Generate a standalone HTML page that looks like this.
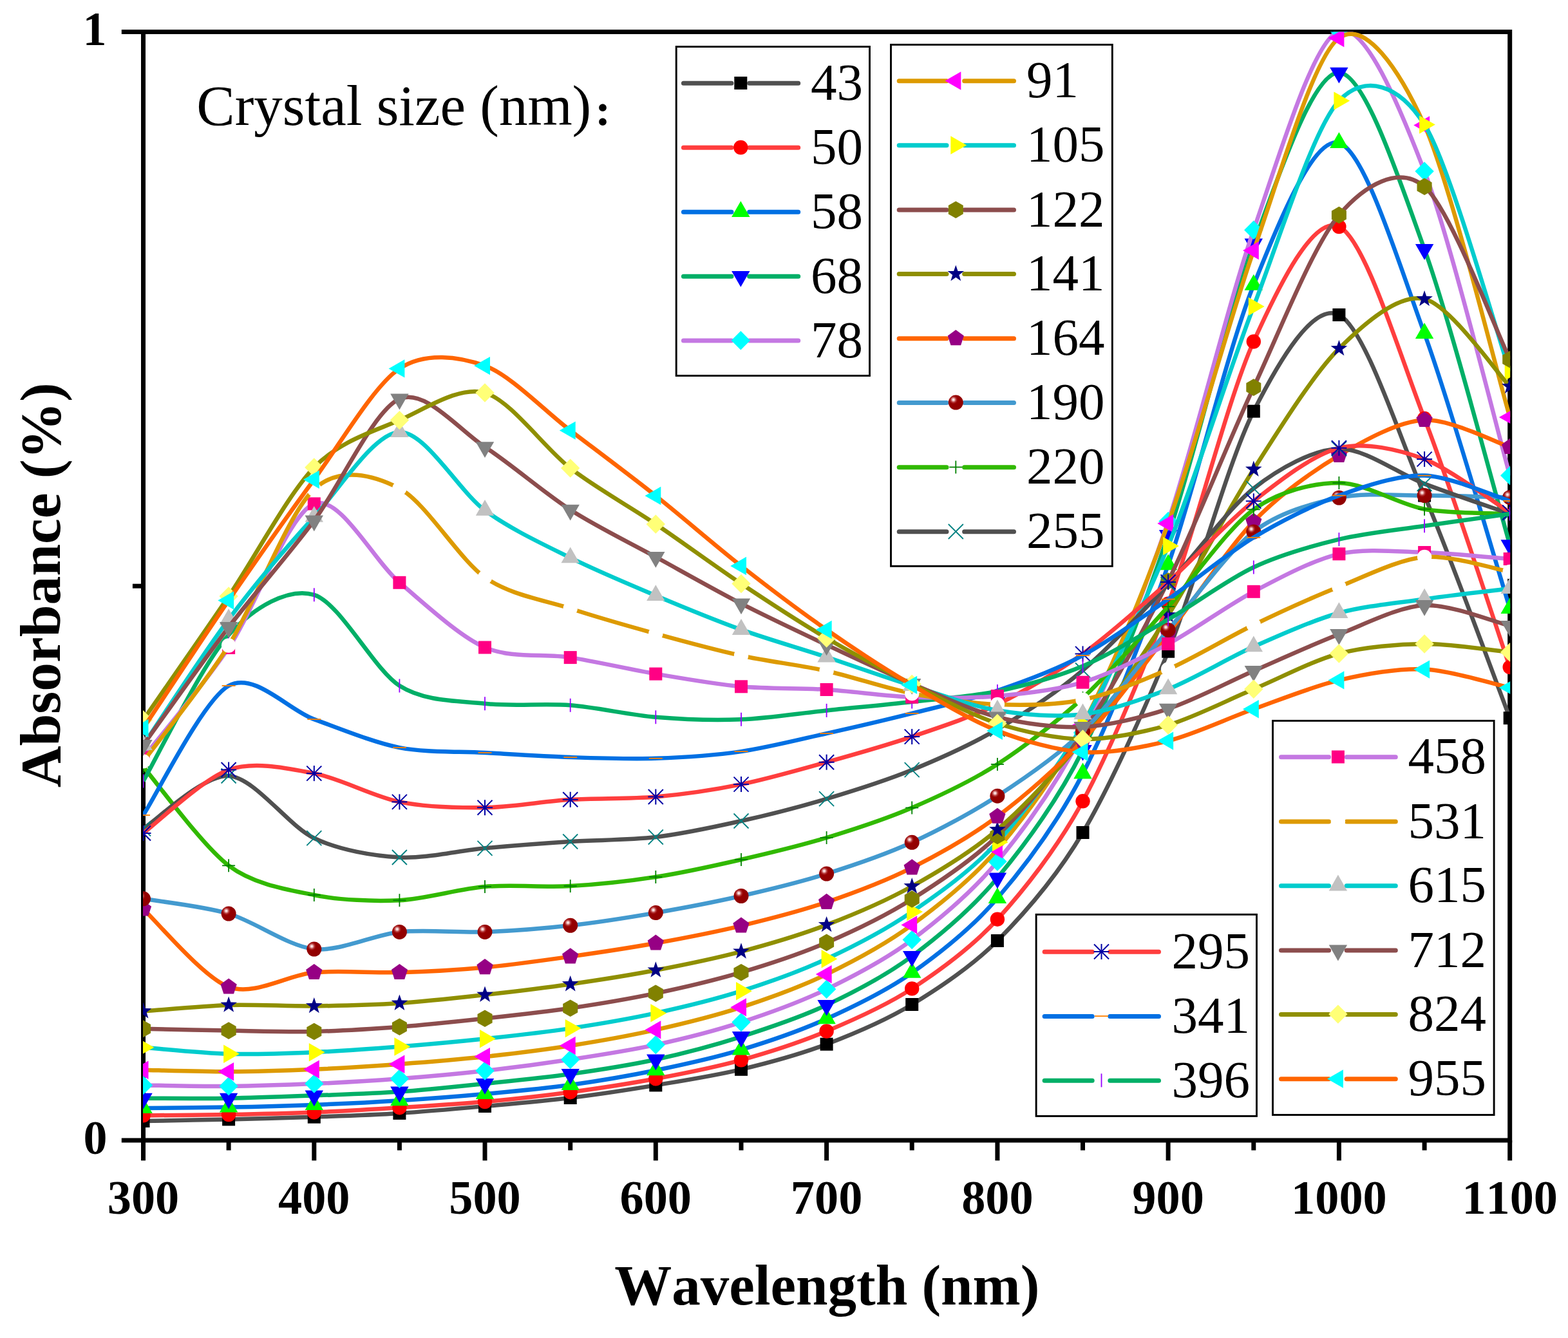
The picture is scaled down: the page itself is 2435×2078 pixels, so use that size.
<!DOCTYPE html>
<html lang="en"><head><meta charset="utf-8"><title>Absorbance vs Wavelength</title>
<style>html,body{margin:0;padding:0;background:#fff;}body{width:2435px;height:2078px;overflow:hidden;}svg{display:block;}
text{font-family:"Liberation Serif","Noto Serif CJK SC",serif;font-kerning:none;fill:#000;}
.b{font-weight:bold;}</style></head><body>
<svg width="2435" height="2078" viewBox="0 0 2435 2078">
<defs><clipPath id="cp"><rect x="222" y="49.5" width="2123.2" height="1721.5"/></clipPath>
<radialGradient id="sph" cx="0.34" cy="0.31" r="0.62" fx="0.34" fy="0.31"><stop offset="0" stop-color="#ffffff"/><stop offset="0.1" stop-color="#f6d0d0"/><stop offset="0.3" stop-color="#b03030"/><stop offset="0.46" stop-color="#960000"/><stop offset="1" stop-color="#900000"/></radialGradient></defs>
<rect width="2435" height="2078" fill="#fff"/>
<g stroke="#000" stroke-width="7" fill="none" stroke-linecap="butt">
<rect x="222.5" y="49.5" width="2122.2" height="1721.5"/>
<line x1="222.5" y1="1771" x2="222.5" y2="1802.4"/>
<line x1="355.1" y1="1771" x2="355.1" y2="1786.5"/>
<line x1="487.8" y1="1771" x2="487.8" y2="1802.4"/>
<line x1="620.4" y1="1771" x2="620.4" y2="1786.5"/>
<line x1="753" y1="1771" x2="753" y2="1802.4"/>
<line x1="885.7" y1="1771" x2="885.7" y2="1786.5"/>
<line x1="1018.3" y1="1771" x2="1018.3" y2="1802.4"/>
<line x1="1151" y1="1771" x2="1151" y2="1786.5"/>
<line x1="1283.6" y1="1771" x2="1283.6" y2="1802.4"/>
<line x1="1416.2" y1="1771" x2="1416.2" y2="1786.5"/>
<line x1="1548.9" y1="1771" x2="1548.9" y2="1802.4"/>
<line x1="1681.5" y1="1771" x2="1681.5" y2="1786.5"/>
<line x1="1814.1" y1="1771" x2="1814.1" y2="1802.4"/>
<line x1="1946.8" y1="1771" x2="1946.8" y2="1786.5"/>
<line x1="2079.4" y1="1771" x2="2079.4" y2="1802.4"/>
<line x1="2212.1" y1="1771" x2="2212.1" y2="1786.5"/>
<line x1="2344.7" y1="1771" x2="2344.7" y2="1802.4"/>
<line x1="188.8" y1="49.5" x2="222.5" y2="49.5"/>
<line x1="188.8" y1="1771" x2="222.5" y2="1771"/>
<line x1="205.9" y1="910.2" x2="222.5" y2="910.2"/>
</g>
<g clip-path="url(#cp)">
<path d="M222.5 1741C242.4 1740.61 315.35 1739.35 355.14 1738.4C394.93 1737.46 447.98 1736.12 487.77 1734.7C527.57 1733.28 580.62 1731.41 620.41 1728.9C660.2 1726.39 713.26 1721.59 753.05 1718C792.84 1714.41 845.9 1709.89 885.69 1705C925.48 1700.11 978.53 1692.03 1018.32 1685.4C1058.12 1678.77 1111.17 1670.36 1150.96 1660.8C1190.75 1651.24 1243.81 1636.82 1283.6 1621.7C1323.39 1606.58 1376.45 1584.11 1416.24 1560C1456.03 1535.89 1509.08 1501.05 1548.88 1461C1588.67 1420.95 1641.72 1360.39 1681.51 1293C1721.3 1225.61 1774.36 1109.85 1814.15 1011.7C1853.94 913.56 1907 717.11 1946.79 638.7C1986.58 560.3 2039.63 469.37 2079.42 489C2119.22 508.63 2172.27 675.67 2212.06 769.6C2251.85 863.53 2324.8 1063.36 2344.7 1115.2" fill="none" stroke="#505050" stroke-width="6.5" stroke-linejoin="round"/>
<g><rect x="212.5" y="1731" width="20" height="20" fill="#000000"/><rect x="345.1" y="1728.4" width="20" height="20" fill="#000000"/><rect x="477.8" y="1724.7" width="20" height="20" fill="#000000"/><rect x="610.4" y="1718.9" width="20" height="20" fill="#000000"/><rect x="743" y="1708" width="20" height="20" fill="#000000"/><rect x="875.7" y="1695" width="20" height="20" fill="#000000"/><rect x="1008.3" y="1675.4" width="20" height="20" fill="#000000"/><rect x="1141" y="1650.8" width="20" height="20" fill="#000000"/><rect x="1273.6" y="1611.7" width="20" height="20" fill="#000000"/><rect x="1406.2" y="1550" width="20" height="20" fill="#000000"/><rect x="1538.9" y="1451" width="20" height="20" fill="#000000"/><rect x="1671.5" y="1283" width="20" height="20" fill="#000000"/><rect x="1804.1" y="1001.7" width="20" height="20" fill="#000000"/><rect x="1936.8" y="628.7" width="20" height="20" fill="#000000"/><rect x="2069.4" y="479" width="20" height="20" fill="#000000"/><rect x="2202.1" y="759.6" width="20" height="20" fill="#000000"/><rect x="2334.7" y="1105.2" width="20" height="20" fill="#000000"/></g>
<path d="M222.5 1732.4C242.4 1732.19 315.35 1731.75 355.14 1731C394.93 1730.25 447.98 1729.02 487.77 1727.4C527.57 1725.78 580.62 1722.66 620.41 1720.2C660.2 1717.74 713.26 1714.6 753.05 1711C792.84 1707.4 845.9 1701.56 885.69 1696.2C925.48 1690.85 978.53 1682.78 1018.32 1675.3C1058.12 1667.82 1111.17 1657.37 1150.96 1646.3C1190.75 1635.23 1243.81 1618.13 1283.6 1601.5C1323.39 1584.87 1376.45 1561.47 1416.24 1535.4C1456.03 1509.33 1509.08 1471.37 1548.88 1427.7C1588.67 1384.04 1641.72 1317.8 1681.51 1244.3C1721.3 1170.8 1774.36 1044.77 1814.15 937.7C1853.94 830.63 1907 618.36 1946.79 530.5C1986.58 442.64 2039.63 334.07 2079.42 352C2119.22 369.93 2172.27 547.38 2212.06 650C2251.85 752.62 2324.8 978.18 2344.7 1036.1" fill="none" stroke="#FF3E3E" stroke-width="6.5" stroke-linejoin="round"/>
<g><circle cx="222.5" cy="1732.4" r="11.2" fill="#FF0000"/><circle cx="355.1" cy="1731" r="11.2" fill="#FF0000"/><circle cx="487.8" cy="1727.4" r="11.2" fill="#FF0000"/><circle cx="620.4" cy="1720.2" r="11.2" fill="#FF0000"/><circle cx="753" cy="1711" r="11.2" fill="#FF0000"/><circle cx="885.7" cy="1696.2" r="11.2" fill="#FF0000"/><circle cx="1018.3" cy="1675.3" r="11.2" fill="#FF0000"/><circle cx="1151" cy="1646.3" r="11.2" fill="#FF0000"/><circle cx="1283.6" cy="1601.5" r="11.2" fill="#FF0000"/><circle cx="1416.2" cy="1535.4" r="11.2" fill="#FF0000"/><circle cx="1548.9" cy="1427.7" r="11.2" fill="#FF0000"/><circle cx="1681.5" cy="1244.3" r="11.2" fill="#FF0000"/><circle cx="1814.1" cy="937.7" r="11.2" fill="#FF0000"/><circle cx="1946.8" cy="530.5" r="11.2" fill="#FF0000"/><circle cx="2079.4" cy="352" r="11.2" fill="#FF0000"/><circle cx="2212.1" cy="650" r="11.2" fill="#FF0000"/><circle cx="2344.7" cy="1036.1" r="11.2" fill="#FF0000"/></g>
<path d="M222.5 1721C242.4 1720.79 315.35 1720.36 355.14 1719.6C394.93 1718.84 447.98 1717.46 487.77 1715.9C527.57 1714.34 580.62 1711.74 620.41 1709.2C660.2 1706.66 713.26 1702.63 753.05 1699C792.84 1695.37 845.9 1690.51 885.69 1685C925.48 1679.49 978.53 1670.49 1018.32 1662.3C1058.12 1654.11 1111.17 1642.4 1150.96 1630.4C1190.75 1618.4 1243.81 1600.24 1283.6 1582.3C1323.39 1564.36 1376.45 1538.89 1416.24 1510.8C1456.03 1482.7 1509.08 1441.41 1548.88 1395C1588.67 1348.59 1641.72 1279.06 1681.51 1201.4C1721.3 1123.75 1774.36 991.11 1814.15 877.3C1853.94 763.49 1907 541 1946.79 442.7C1986.58 344.4 2039.63 210.7 2079.42 222C2119.22 233.3 2172.27 409.55 2212.06 518C2251.85 626.45 2324.8 880.95 2344.7 945" fill="none" stroke="#0070E3" stroke-width="6.5" stroke-linejoin="round"/>
<g><polygon points="222.5,1704.2 236.7,1729 208.3,1729" fill="#00FF00"/><polygon points="355.1,1702.8 369.3,1727.6 340.9,1727.6" fill="#00FF00"/><polygon points="487.8,1699.1 502,1723.9 473.6,1723.9" fill="#00FF00"/><polygon points="620.4,1692.4 634.6,1717.2 606.2,1717.2" fill="#00FF00"/><polygon points="753,1682.2 767.2,1707 738.8,1707" fill="#00FF00"/><polygon points="885.7,1668.2 899.9,1693 871.5,1693" fill="#00FF00"/><polygon points="1018.3,1645.5 1032.5,1670.3 1004.1,1670.3" fill="#00FF00"/><polygon points="1151,1613.6 1165.2,1638.4 1136.8,1638.4" fill="#00FF00"/><polygon points="1283.6,1565.5 1297.8,1590.3 1269.4,1590.3" fill="#00FF00"/><polygon points="1416.2,1494 1430.4,1518.8 1402,1518.8" fill="#00FF00"/><polygon points="1548.9,1378.2 1563.1,1403 1534.7,1403" fill="#00FF00"/><polygon points="1681.5,1184.6 1695.7,1209.4 1667.3,1209.4" fill="#00FF00"/><polygon points="1814.1,860.5 1828.3,885.3 1799.9,885.3" fill="#00FF00"/><polygon points="1946.8,425.9 1961,450.7 1932.6,450.7" fill="#00FF00"/><polygon points="2079.4,205.2 2093.6,230 2065.2,230" fill="#00FF00"/><polygon points="2212.1,501.2 2226.3,526 2197.9,526" fill="#00FF00"/><polygon points="2344.7,928.2 2358.9,953 2330.5,953" fill="#00FF00"/></g>
<path d="M222.5 1705.7C242.4 1705.7 315.35 1706.35 355.14 1705.7C394.93 1705.06 447.98 1702.92 487.77 1701.4C527.57 1699.88 580.62 1698.36 620.41 1695.6C660.2 1692.84 713.26 1687.14 753.05 1683C792.84 1678.86 845.9 1673.62 885.69 1668C925.48 1662.38 978.53 1654.18 1018.32 1645.5C1058.12 1636.82 1111.17 1622.79 1150.96 1610.1C1190.75 1597.41 1243.81 1579.66 1283.6 1560.9C1323.39 1542.14 1376.45 1514.61 1416.24 1485C1456.03 1455.39 1509.08 1411.5 1548.88 1363.5C1588.67 1315.5 1641.72 1244.88 1681.51 1165C1721.3 1085.12 1774.36 948.99 1814.15 831C1853.94 713.01 1907 486.13 1946.79 378.4C1986.58 270.67 2039.63 111.51 2079.42 112.8C2119.22 114.09 2172.27 276.98 2212.06 387C2251.85 497.02 2324.8 777.4 2344.7 846.3" fill="none" stroke="#00AF67" stroke-width="6.5" stroke-linejoin="round"/>
<g><polygon points="222.5,1722.5 236.7,1697.7 208.3,1697.7" fill="#0000FF"/><polygon points="355.1,1722.5 369.3,1697.7 340.9,1697.7" fill="#0000FF"/><polygon points="487.8,1718.2 502,1693.4 473.6,1693.4" fill="#0000FF"/><polygon points="620.4,1712.4 634.6,1687.6 606.2,1687.6" fill="#0000FF"/><polygon points="753,1699.8 767.2,1675 738.8,1675" fill="#0000FF"/><polygon points="885.7,1684.8 899.9,1660 871.5,1660" fill="#0000FF"/><polygon points="1018.3,1662.3 1032.5,1637.5 1004.1,1637.5" fill="#0000FF"/><polygon points="1151,1626.9 1165.2,1602.1 1136.8,1602.1" fill="#0000FF"/><polygon points="1283.6,1577.7 1297.8,1552.9 1269.4,1552.9" fill="#0000FF"/><polygon points="1416.2,1501.8 1430.4,1477 1402,1477" fill="#0000FF"/><polygon points="1548.9,1380.3 1563.1,1355.5 1534.7,1355.5" fill="#0000FF"/><polygon points="1681.5,1181.8 1695.7,1157 1667.3,1157" fill="#0000FF"/><polygon points="1814.1,847.8 1828.3,823 1799.9,823" fill="#0000FF"/><polygon points="1946.8,395.2 1961,370.4 1932.6,370.4" fill="#0000FF"/><polygon points="2079.4,129.6 2093.6,104.8 2065.2,104.8" fill="#0000FF"/><polygon points="2212.1,403.8 2226.3,379 2197.9,379" fill="#0000FF"/><polygon points="2344.7,863.1 2358.9,838.3 2330.5,838.3" fill="#0000FF"/></g>
<path d="M222.5 1685.4C242.4 1685.62 315.35 1687.25 355.14 1686.9C394.93 1686.56 447.98 1684.84 487.77 1683.1C527.57 1681.36 580.62 1678.32 620.41 1675.3C660.2 1672.28 713.26 1667.47 753.05 1663C792.84 1658.53 845.9 1651.56 885.69 1645.5C925.48 1639.44 978.53 1631.28 1018.32 1622.6C1058.12 1613.91 1111.17 1600.54 1150.96 1587.6C1190.75 1574.65 1243.81 1555.5 1283.6 1536.3C1323.39 1517.1 1376.45 1489.34 1416.24 1459.6C1456.03 1429.86 1509.08 1386.24 1548.88 1338C1588.67 1289.76 1641.72 1217.28 1681.51 1138C1721.3 1058.72 1774.36 926.61 1814.15 809.5C1853.94 692.39 1907 471.53 1946.79 357.3C1986.58 243.07 2039.63 61.7 2079.42 48C2119.22 34.3 2172.27 162.41 2212.06 266C2251.85 369.59 2324.8 667.71 2344.7 738.6" fill="none" stroke="#C478E2" stroke-width="6.5" stroke-linejoin="round"/>
<g><polygon points="222.5,1670.7 237.2,1685.4 222.5,1700.1 207.8,1685.4" fill="#00FFFF"/><polygon points="355.1,1672.2 369.8,1686.9 355.1,1701.6 340.4,1686.9" fill="#00FFFF"/><polygon points="487.8,1668.4 502.5,1683.1 487.8,1697.8 473.1,1683.1" fill="#00FFFF"/><polygon points="620.4,1660.6 635.1,1675.3 620.4,1690 605.7,1675.3" fill="#00FFFF"/><polygon points="753,1648.3 767.8,1663 753,1677.7 738.3,1663" fill="#00FFFF"/><polygon points="885.7,1630.8 900.4,1645.5 885.7,1660.2 871,1645.5" fill="#00FFFF"/><polygon points="1018.3,1607.9 1033,1622.6 1018.3,1637.3 1003.6,1622.6" fill="#00FFFF"/><polygon points="1151,1572.9 1165.7,1587.6 1151,1602.3 1136.3,1587.6" fill="#00FFFF"/><polygon points="1283.6,1521.6 1298.3,1536.3 1283.6,1551 1268.9,1536.3" fill="#00FFFF"/><polygon points="1416.2,1444.9 1430.9,1459.6 1416.2,1474.3 1401.5,1459.6" fill="#00FFFF"/><polygon points="1548.9,1323.3 1563.6,1338 1548.9,1352.7 1534.2,1338" fill="#00FFFF"/><polygon points="1681.5,1123.3 1696.2,1138 1681.5,1152.7 1666.8,1138" fill="#00FFFF"/><polygon points="1814.1,794.8 1828.8,809.5 1814.1,824.2 1799.4,809.5" fill="#00FFFF"/><polygon points="1946.8,342.6 1961.5,357.3 1946.8,372 1932.1,357.3" fill="#00FFFF"/><polygon points="2079.4,33.3 2094.1,48 2079.4,62.7 2064.7,48" fill="#00FFFF"/><polygon points="2212.1,251.3 2226.8,266 2212.1,280.7 2197.4,266" fill="#00FFFF"/><polygon points="2344.7,723.9 2359.4,738.6 2344.7,753.3 2330,738.6" fill="#00FFFF"/></g>
<path d="M222.5 1661.7C242.4 1662.09 315.35 1664.43 355.14 1664.3C394.93 1664.16 447.98 1662.54 487.77 1660.8C527.57 1659.06 580.62 1655.65 620.41 1652.7C660.2 1649.75 713.26 1645.4 753.05 1641.1C792.84 1636.79 845.9 1630.25 885.69 1624C925.48 1617.75 978.53 1608.34 1018.32 1599.4C1058.12 1590.46 1111.17 1577.35 1150.96 1564.4C1190.75 1551.46 1243.81 1532.3 1283.6 1513.1C1323.39 1493.9 1376.45 1465.52 1416.24 1436.4C1456.03 1407.29 1509.08 1365.56 1548.88 1319C1588.67 1272.44 1641.72 1201.9 1681.51 1126C1721.3 1050.1 1774.36 923.53 1814.15 813C1853.94 702.47 1907 502.2 1946.79 389.1C1986.58 276 2039.63 88.19 2079.42 59C2119.22 29.81 2172.27 106.15 2212.06 194.5C2251.85 282.85 2324.8 579.98 2344.7 648" fill="none" stroke="#DD9A00" stroke-width="6.5" stroke-linejoin="round"/>
<g><polygon points="205.7,1661.7 230.5,1647.5 230.5,1675.9" fill="#FF00FF"/><polygon points="338.3,1664.3 363.1,1650.1 363.1,1678.5" fill="#FF00FF"/><polygon points="471,1660.8 495.8,1646.6 495.8,1675" fill="#FF00FF"/><polygon points="603.6,1652.7 628.4,1638.5 628.4,1666.9" fill="#FF00FF"/><polygon points="736.2,1641.1 761,1626.9 761,1655.3" fill="#FF00FF"/><polygon points="868.9,1624 893.7,1609.8 893.7,1638.2" fill="#FF00FF"/><polygon points="1001.5,1599.4 1026.3,1585.2 1026.3,1613.6" fill="#FF00FF"/><polygon points="1134.2,1564.4 1159,1550.2 1159,1578.6" fill="#FF00FF"/><polygon points="1266.8,1513.1 1291.6,1498.9 1291.6,1527.3" fill="#FF00FF"/><polygon points="1399.4,1436.4 1424.2,1422.2 1424.2,1450.6" fill="#FF00FF"/><polygon points="1532.1,1319 1556.9,1304.8 1556.9,1333.2" fill="#FF00FF"/><polygon points="1664.7,1126 1689.5,1111.8 1689.5,1140.2" fill="#FF00FF"/><polygon points="1797.3,813 1822.1,798.8 1822.1,827.2" fill="#FF00FF"/><polygon points="1930,389.1 1954.8,374.9 1954.8,403.3" fill="#FF00FF"/><polygon points="2062.6,59 2087.4,44.8 2087.4,73.2" fill="#FF00FF"/><polygon points="2195.3,194.5 2220.1,180.3 2220.1,208.7" fill="#FF00FF"/><polygon points="2327.9,648 2352.7,633.8 2352.7,662.2" fill="#FF00FF"/></g>
<path d="M222.5 1626.7C242.4 1628.22 315.35 1635.67 355.14 1636.8C394.93 1637.92 447.98 1635.89 487.77 1634.2C527.57 1632.51 580.62 1628.63 620.41 1625.5C660.2 1622.37 713.26 1617.56 753.05 1613.3C792.84 1609.04 845.9 1603.08 885.69 1597.1C925.48 1591.12 978.53 1582.09 1018.32 1573.4C1058.12 1564.72 1111.17 1551.83 1150.96 1539.2C1190.75 1526.57 1243.81 1507.66 1283.6 1489.2C1323.39 1470.74 1376.45 1443.28 1416.24 1416.1C1456.03 1388.92 1509.08 1351.66 1548.88 1308C1588.67 1264.34 1641.72 1194 1681.51 1125C1721.3 1056 1774.36 945.35 1814.15 848C1853.94 750.65 1907 579.71 1946.79 476C1986.58 372.29 2039.63 198.96 2079.42 156.6C2119.22 114.24 2172.27 130.54 2212.06 193.6C2251.85 256.66 2324.8 519.49 2344.7 577" fill="none" stroke="#00CCCD" stroke-width="6.5" stroke-linejoin="round"/>
<g><polygon points="239.3,1626.7 214.5,1612.5 214.5,1640.9" fill="#FFFF00"/><polygon points="371.9,1636.8 347.1,1622.6 347.1,1651" fill="#FFFF00"/><polygon points="504.6,1634.2 479.8,1620 479.8,1648.4" fill="#FFFF00"/><polygon points="637.2,1625.5 612.4,1611.3 612.4,1639.7" fill="#FFFF00"/><polygon points="769.8,1613.3 745,1599.1 745,1627.5" fill="#FFFF00"/><polygon points="902.5,1597.1 877.7,1582.9 877.7,1611.3" fill="#FFFF00"/><polygon points="1035.1,1573.4 1010.3,1559.2 1010.3,1587.6" fill="#FFFF00"/><polygon points="1167.8,1539.2 1143,1525 1143,1553.4" fill="#FFFF00"/><polygon points="1300.4,1489.2 1275.6,1475 1275.6,1503.4" fill="#FFFF00"/><polygon points="1433,1416.1 1408.2,1401.9 1408.2,1430.3" fill="#FFFF00"/><polygon points="1565.7,1308 1540.9,1293.8 1540.9,1322.2" fill="#FFFF00"/><polygon points="1698.3,1125 1673.5,1110.8 1673.5,1139.2" fill="#FFFF00"/><polygon points="1830.9,848 1806.1,833.8 1806.1,862.2" fill="#FFFF00"/><polygon points="1963.6,476 1938.8,461.8 1938.8,490.2" fill="#FFFF00"/><polygon points="2096.2,156.6 2071.4,142.4 2071.4,170.8" fill="#FFFF00"/><polygon points="2228.9,193.6 2204.1,179.4 2204.1,207.8" fill="#FFFF00"/><polygon points="2361.5,577 2336.7,562.8 2336.7,591.2" fill="#FFFF00"/></g>
<path d="M222.5 1597.7C242.4 1598.13 315.35 1599.95 355.14 1600.6C394.93 1601.24 447.98 1602.87 487.77 1602C527.57 1601.13 580.62 1597.83 620.41 1594.8C660.2 1591.77 713.26 1586.15 753.05 1581.8C792.84 1577.45 845.9 1571.66 885.69 1565.8C925.48 1559.93 978.53 1551.04 1018.32 1542.7C1058.12 1534.36 1111.17 1522.02 1150.96 1510.2C1190.75 1498.38 1243.81 1480.97 1283.6 1463.9C1323.39 1446.83 1376.45 1421.29 1416.24 1396.4C1456.03 1371.52 1509.08 1336.76 1548.88 1298C1588.67 1259.24 1641.72 1197.33 1681.51 1138C1721.3 1078.67 1774.36 982.96 1814.15 902.5C1853.94 822.04 1907 686.88 1946.79 601.6C1986.58 516.33 2039.63 380.77 2079.42 334C2119.22 287.23 2172.27 256.17 2212.06 289.8C2251.85 323.43 2324.8 517.94 2344.7 558.2" fill="none" stroke="#8C4D4D" stroke-width="6.5" stroke-linejoin="round"/>
<g><polygon points="222.5,1584.4 234,1591 234,1604.4 222.5,1611 211,1604.4 211,1591" fill="#818100"/><polygon points="355.1,1587.3 366.7,1593.9 366.7,1607.2 355.1,1613.9 343.6,1607.2 343.6,1593.9" fill="#818100"/><polygon points="487.8,1588.7 499.3,1595.3 499.3,1608.7 487.8,1615.3 476.3,1608.7 476.3,1595.3" fill="#818100"/><polygon points="620.4,1581.5 631.9,1588.1 631.9,1601.5 620.4,1608.1 608.9,1601.5 608.9,1588.1" fill="#818100"/><polygon points="753,1568.5 764.6,1575.1 764.6,1588.5 753,1595.1 741.5,1588.5 741.5,1575.1" fill="#818100"/><polygon points="885.7,1552.5 897.2,1559.1 897.2,1572.5 885.7,1579.1 874.2,1572.5 874.2,1559.1" fill="#818100"/><polygon points="1018.3,1529.4 1029.8,1536 1029.8,1549.4 1018.3,1556 1006.8,1549.4 1006.8,1536" fill="#818100"/><polygon points="1151,1496.9 1162.5,1503.5 1162.5,1516.9 1151,1523.5 1139.4,1516.9 1139.4,1503.5" fill="#818100"/><polygon points="1283.6,1450.6 1295.1,1457.2 1295.1,1470.6 1283.6,1477.2 1272.1,1470.6 1272.1,1457.2" fill="#818100"/><polygon points="1416.2,1383.1 1427.8,1389.8 1427.8,1403.1 1416.2,1409.7 1404.7,1403.1 1404.7,1389.8" fill="#818100"/><polygon points="1548.9,1284.7 1560.4,1291.3 1560.4,1304.7 1548.9,1311.3 1537.4,1304.7 1537.4,1291.3" fill="#818100"/><polygon points="1681.5,1124.7 1693,1131.3 1693,1144.7 1681.5,1151.3 1670,1144.7 1670,1131.3" fill="#818100"/><polygon points="1814.1,889.2 1825.7,895.9 1825.7,909.1 1814.1,915.8 1802.6,909.1 1802.6,895.9" fill="#818100"/><polygon points="1946.8,588.3 1958.3,595 1958.3,608.2 1946.8,614.9 1935.3,608.2 1935.3,595" fill="#818100"/><polygon points="2079.4,320.7 2090.9,327.4 2090.9,340.6 2079.4,347.3 2067.9,340.7 2067.9,327.4" fill="#818100"/><polygon points="2212.1,276.5 2223.6,283.2 2223.6,296.4 2212.1,303.1 2200.5,296.5 2200.5,283.2" fill="#818100"/><polygon points="2344.7,544.9 2356.2,551.6 2356.2,564.9 2344.7,571.5 2333.2,564.9 2333.2,551.6" fill="#818100"/></g>
<path d="M222.5 1570.5C242.4 1569.06 315.35 1562.12 355.14 1560.9C394.93 1559.69 447.98 1562.84 487.77 1562.4C527.57 1561.97 580.62 1560.61 620.41 1558C660.2 1555.39 713.26 1549.42 753.05 1545C792.84 1540.58 845.9 1534.23 885.69 1528.5C925.48 1522.77 978.53 1514.4 1018.32 1506.8C1058.12 1499.19 1111.17 1488.36 1150.96 1477.8C1190.75 1467.24 1243.81 1451.6 1283.6 1436.4C1323.39 1421.21 1376.45 1398.68 1416.24 1376.5C1456.03 1354.32 1509.08 1322.78 1548.88 1288.5C1588.67 1254.22 1641.72 1197.95 1681.51 1148C1721.3 1098.05 1774.36 1018.35 1814.15 955.5C1853.94 892.65 1907 791.12 1946.79 729C1986.58 666.88 2039.63 581.09 2079.42 541.4C2119.22 501.71 2172.27 455.58 2212.06 464.4C2251.85 473.22 2324.8 579.83 2344.7 600.2" fill="none" stroke="#8F8F00" stroke-width="6.5" stroke-linejoin="round"/>
<g><polygon points="222.5,1557 225.7,1566.1 235.3,1566.3 227.6,1572.2 230.4,1581.4 222.5,1575.9 214.6,1581.4 217.4,1572.2 209.7,1566.3 219.3,1566.1" fill="#000084"/><polygon points="355.1,1547.4 358.3,1556.5 368,1556.7 360.3,1562.6 363.1,1571.8 355.1,1566.3 347.2,1571.8 350,1562.6 342.3,1556.7 352,1556.5" fill="#000084"/><polygon points="487.8,1548.9 490.9,1558 500.6,1558.2 492.9,1564.1 495.7,1573.3 487.8,1567.8 479.8,1573.3 482.6,1564.1 474.9,1558.2 484.6,1558" fill="#000084"/><polygon points="620.4,1544.5 623.6,1553.6 633.3,1553.8 625.5,1559.7 628.3,1568.9 620.4,1563.4 612.5,1568.9 615.3,1559.7 607.6,1553.8 617.2,1553.6" fill="#000084"/><polygon points="753,1531.5 756.2,1540.6 765.9,1540.8 758.2,1546.7 761,1555.9 753,1550.4 745.1,1555.9 747.9,1546.7 740.2,1540.8 749.9,1540.6" fill="#000084"/><polygon points="885.7,1515 888.9,1524.1 898.5,1524.3 890.8,1530.2 893.6,1539.4 885.7,1533.9 877.8,1539.4 880.6,1530.2 872.8,1524.3 882.5,1524.1" fill="#000084"/><polygon points="1018.3,1493.3 1021.5,1502.4 1031.2,1502.6 1023.5,1508.5 1026.3,1517.7 1018.3,1512.2 1010.4,1517.7 1013.2,1508.5 1005.5,1502.6 1015.2,1502.4" fill="#000084"/><polygon points="1151,1464.3 1154.1,1473.4 1163.8,1473.6 1156.1,1479.5 1158.9,1488.7 1151,1483.2 1143,1488.7 1145.8,1479.5 1138.1,1473.6 1147.8,1473.4" fill="#000084"/><polygon points="1283.6,1422.9 1286.8,1432 1296.4,1432.2 1288.7,1438.1 1291.5,1447.3 1283.6,1441.8 1275.7,1447.3 1278.5,1438.1 1270.8,1432.2 1280.4,1432" fill="#000084"/><polygon points="1416.2,1363 1419.4,1372.1 1429.1,1372.3 1421.4,1378.2 1424.2,1387.4 1416.2,1381.9 1408.3,1387.4 1411.1,1378.2 1403.4,1372.3 1413.1,1372.1" fill="#000084"/><polygon points="1548.9,1275 1552,1284.1 1561.7,1284.3 1554,1290.2 1556.8,1299.4 1548.9,1293.9 1540.9,1299.4 1543.7,1290.2 1536,1284.3 1545.7,1284.1" fill="#000084"/><polygon points="1681.5,1134.5 1684.7,1143.6 1694.4,1143.8 1686.6,1149.7 1689.4,1158.9 1681.5,1153.4 1673.6,1158.9 1676.4,1149.7 1668.7,1143.8 1678.3,1143.6" fill="#000084"/><polygon points="1814.1,942 1817.3,951.1 1827,951.3 1819.3,957.2 1822.1,966.4 1814.1,960.9 1806.2,966.4 1809,957.2 1801.3,951.3 1811,951.1" fill="#000084"/><polygon points="1946.8,715.5 1950,724.6 1959.6,724.8 1951.9,730.7 1954.7,739.9 1946.8,734.4 1938.9,739.9 1941.7,730.7 1933.9,724.8 1943.6,724.6" fill="#000084"/><polygon points="2079.4,527.9 2082.6,537 2092.3,537.2 2084.6,543.1 2087.4,552.3 2079.4,546.8 2071.5,552.3 2074.3,543.1 2066.6,537.2 2076.3,537" fill="#000084"/><polygon points="2212.1,450.9 2215.2,460 2224.9,460.2 2217.2,466.1 2220,475.3 2212.1,469.8 2204.1,475.3 2206.9,466.1 2199.2,460.2 2208.9,460" fill="#000084"/><polygon points="2344.7,586.7 2347.9,595.8 2357.5,596 2349.8,601.9 2352.6,611.1 2344.7,605.6 2336.8,611.1 2339.6,601.9 2331.9,596 2341.5,595.8" fill="#000084"/></g>
<path d="M222.5 1411.8C242.4 1429.95 315.35 1518.04 355.14 1532.8C394.93 1547.56 447.98 1513.59 487.77 1510.2C527.57 1506.81 580.62 1511.37 620.41 1510.2C660.2 1509.03 713.26 1506.09 753.05 1502.4C792.84 1498.71 845.9 1491.24 885.69 1485.6C925.48 1479.96 978.53 1471.97 1018.32 1464.8C1058.12 1457.63 1111.17 1447.36 1150.96 1437.8C1190.75 1428.24 1243.81 1414.63 1283.6 1401.1C1323.39 1387.57 1376.45 1367.56 1416.24 1347.6C1456.03 1327.63 1509.08 1297.64 1548.88 1268C1588.67 1238.36 1641.72 1192.6 1681.51 1150C1721.3 1107.4 1774.36 1035 1814.15 984C1853.94 933 1907 851.5 1946.79 810C1986.58 768.5 2039.63 730.95 2079.42 707.3C2119.22 683.64 2172.27 654.25 2212.06 652.3C2251.85 650.35 2324.8 688 2344.7 694.3" fill="none" stroke="#FF6500" stroke-width="6.5" stroke-linejoin="round"/>
<g><polygon points="222.5,1398.5 235.1,1407.7 230.3,1422.6 214.7,1422.6 209.9,1407.7" fill="#960084"/><polygon points="355.1,1519.5 367.8,1528.7 363,1543.6 347.3,1543.6 342.5,1528.7" fill="#960084"/><polygon points="487.8,1496.9 500.4,1506.1 495.6,1521 480,1521 475.1,1506.1" fill="#960084"/><polygon points="620.4,1496.9 633.1,1506.1 628.2,1521 612.6,1521 607.8,1506.1" fill="#960084"/><polygon points="753,1489.1 765.7,1498.3 760.9,1513.2 745.2,1513.2 740.4,1498.3" fill="#960084"/><polygon points="885.7,1472.3 898.3,1481.5 893.5,1496.4 877.9,1496.4 873,1481.5" fill="#960084"/><polygon points="1018.3,1451.5 1031,1460.7 1026.1,1475.6 1010.5,1475.6 1005.7,1460.7" fill="#960084"/><polygon points="1151,1424.5 1163.6,1433.7 1158.8,1448.6 1143.1,1448.6 1138.3,1433.7" fill="#960084"/><polygon points="1283.6,1387.8 1296.2,1397 1291.4,1411.9 1275.8,1411.9 1271,1397" fill="#960084"/><polygon points="1416.2,1334.3 1428.9,1343.5 1424.1,1358.4 1408.4,1358.4 1403.6,1343.5" fill="#960084"/><polygon points="1548.9,1254.7 1561.5,1263.9 1556.7,1278.8 1541.1,1278.8 1536.2,1263.9" fill="#960084"/><polygon points="1681.5,1136.7 1694.2,1145.9 1689.3,1160.8 1673.7,1160.8 1668.9,1145.9" fill="#960084"/><polygon points="1814.1,970.7 1826.8,979.9 1822,994.8 1806.3,994.8 1801.5,979.9" fill="#960084"/><polygon points="1946.8,796.7 1959.4,805.9 1954.6,820.8 1939,820.8 1934.1,805.9" fill="#960084"/><polygon points="2079.4,694 2092.1,703.2 2087.2,718.1 2071.6,718.1 2066.8,703.2" fill="#960084"/><polygon points="2212.1,639 2224.7,648.2 2219.9,663.1 2204.2,663.1 2199.4,648.2" fill="#960084"/><polygon points="2344.7,681 2357.3,690.2 2352.5,705.1 2336.9,705.1 2332.1,690.2" fill="#960084"/></g>
<path d="M222.5 1395.8C242.4 1399.28 315.35 1407.27 355.14 1419C394.93 1430.73 447.98 1469.74 487.77 1474C527.57 1478.26 580.62 1451.39 620.41 1447.4C660.2 1443.41 713.26 1448.92 753.05 1447.4C792.84 1445.88 845.9 1441.77 885.69 1437.3C925.48 1432.83 978.53 1424.47 1018.32 1417.6C1058.12 1410.73 1111.17 1400.59 1150.96 1391.5C1190.75 1382.41 1243.81 1369.48 1283.6 1357C1323.39 1344.52 1376.45 1326.42 1416.24 1308.3C1456.03 1290.18 1509.08 1262.05 1548.88 1236.2C1588.67 1210.36 1641.72 1174.67 1681.51 1136C1721.3 1097.33 1774.36 1024.9 1814.15 978.4C1853.94 931.9 1907 856.81 1946.79 826C1986.58 795.19 2039.63 781.46 2079.42 773C2119.22 764.54 2172.27 769.68 2212.06 769.6C2251.85 769.52 2324.8 772.07 2344.7 772.5" fill="none" stroke="#439ACF" stroke-width="6.5" stroke-linejoin="round"/>
<g><circle cx="222.5" cy="1395.8" r="11.5" fill="url(#sph)"/><circle cx="355.1" cy="1419" r="11.5" fill="url(#sph)"/><circle cx="487.8" cy="1474" r="11.5" fill="url(#sph)"/><circle cx="620.4" cy="1447.4" r="11.5" fill="url(#sph)"/><circle cx="753" cy="1447.4" r="11.5" fill="url(#sph)"/><circle cx="885.7" cy="1437.3" r="11.5" fill="url(#sph)"/><circle cx="1018.3" cy="1417.6" r="11.5" fill="url(#sph)"/><circle cx="1151" cy="1391.5" r="11.5" fill="url(#sph)"/><circle cx="1283.6" cy="1357" r="11.5" fill="url(#sph)"/><circle cx="1416.2" cy="1308.3" r="11.5" fill="url(#sph)"/><circle cx="1548.9" cy="1236.2" r="11.5" fill="url(#sph)"/><circle cx="1681.5" cy="1136" r="11.5" fill="url(#sph)"/><circle cx="1814.1" cy="978.4" r="11.5" fill="url(#sph)"/><circle cx="1946.8" cy="826" r="11.5" fill="url(#sph)"/><circle cx="2079.4" cy="773" r="11.5" fill="url(#sph)"/><circle cx="2212.1" cy="769.6" r="11.5" fill="url(#sph)"/><circle cx="2344.7" cy="772.5" r="11.5" fill="url(#sph)"/></g>
<path d="M222.5 1191C242.4 1213.99 315.35 1314.45 355.14 1344.3C394.93 1374.15 447.98 1381.91 487.77 1390C527.57 1398.09 580.62 1400.15 620.41 1398.2C660.2 1396.25 713.26 1380.32 753.05 1377C792.84 1373.68 845.9 1378.35 885.69 1376.1C925.48 1373.85 978.53 1368.16 1018.32 1362C1058.12 1355.84 1111.17 1344.15 1150.96 1335C1190.75 1325.85 1243.81 1313.08 1283.6 1301C1323.39 1288.92 1376.45 1271.6 1416.24 1254.5C1456.03 1237.4 1509.08 1212.58 1548.88 1187C1588.67 1161.42 1641.72 1120.75 1681.51 1084C1721.3 1047.25 1774.36 985.9 1814.15 942C1853.94 898.1 1907 820.1 1946.79 791.3C1986.58 762.5 2039.63 750.09 2079.42 750C2119.22 749.91 2172.27 783.5 2212.06 790.7C2251.85 797.9 2324.8 796.9 2344.7 798" fill="none" stroke="#31B900" stroke-width="6.5" stroke-linejoin="round"/>
<g><line x1="212.5" y1="1191" x2="232.5" y2="1191" stroke="#008100" stroke-width="1.8"/><line x1="222.5" y1="1181" x2="222.5" y2="1201" stroke="#008100" stroke-width="1.8"/><line x1="345.1" y1="1344.3" x2="365.1" y2="1344.3" stroke="#008100" stroke-width="1.8"/><line x1="355.1" y1="1334.3" x2="355.1" y2="1354.3" stroke="#008100" stroke-width="1.8"/><line x1="477.8" y1="1390" x2="497.8" y2="1390" stroke="#008100" stroke-width="1.8"/><line x1="487.8" y1="1380" x2="487.8" y2="1400" stroke="#008100" stroke-width="1.8"/><line x1="610.4" y1="1398.2" x2="630.4" y2="1398.2" stroke="#008100" stroke-width="1.8"/><line x1="620.4" y1="1388.2" x2="620.4" y2="1408.2" stroke="#008100" stroke-width="1.8"/><line x1="743" y1="1377" x2="763" y2="1377" stroke="#008100" stroke-width="1.8"/><line x1="753" y1="1367" x2="753" y2="1387" stroke="#008100" stroke-width="1.8"/><line x1="875.7" y1="1376.1" x2="895.7" y2="1376.1" stroke="#008100" stroke-width="1.8"/><line x1="885.7" y1="1366.1" x2="885.7" y2="1386.1" stroke="#008100" stroke-width="1.8"/><line x1="1008.3" y1="1362" x2="1028.3" y2="1362" stroke="#008100" stroke-width="1.8"/><line x1="1018.3" y1="1352" x2="1018.3" y2="1372" stroke="#008100" stroke-width="1.8"/><line x1="1141" y1="1335" x2="1161" y2="1335" stroke="#008100" stroke-width="1.8"/><line x1="1151" y1="1325" x2="1151" y2="1345" stroke="#008100" stroke-width="1.8"/><line x1="1273.6" y1="1301" x2="1293.6" y2="1301" stroke="#008100" stroke-width="1.8"/><line x1="1283.6" y1="1291" x2="1283.6" y2="1311" stroke="#008100" stroke-width="1.8"/><line x1="1406.2" y1="1254.5" x2="1426.2" y2="1254.5" stroke="#008100" stroke-width="1.8"/><line x1="1416.2" y1="1244.5" x2="1416.2" y2="1264.5" stroke="#008100" stroke-width="1.8"/><line x1="1538.9" y1="1187" x2="1558.9" y2="1187" stroke="#008100" stroke-width="1.8"/><line x1="1548.9" y1="1177" x2="1548.9" y2="1197" stroke="#008100" stroke-width="1.8"/><line x1="1671.5" y1="1084" x2="1691.5" y2="1084" stroke="#008100" stroke-width="1.8"/><line x1="1681.5" y1="1074" x2="1681.5" y2="1094" stroke="#008100" stroke-width="1.8"/><line x1="1804.1" y1="942" x2="1824.1" y2="942" stroke="#008100" stroke-width="1.8"/><line x1="1814.1" y1="932" x2="1814.1" y2="952" stroke="#008100" stroke-width="1.8"/><line x1="1936.8" y1="791.3" x2="1956.8" y2="791.3" stroke="#008100" stroke-width="1.8"/><line x1="1946.8" y1="781.3" x2="1946.8" y2="801.3" stroke="#008100" stroke-width="1.8"/><line x1="2069.4" y1="750" x2="2089.4" y2="750" stroke="#008100" stroke-width="1.8"/><line x1="2079.4" y1="740" x2="2079.4" y2="760" stroke="#008100" stroke-width="1.8"/><line x1="2202.1" y1="790.7" x2="2222.1" y2="790.7" stroke="#008100" stroke-width="1.8"/><line x1="2212.1" y1="780.7" x2="2212.1" y2="800.7" stroke="#008100" stroke-width="1.8"/><line x1="2334.7" y1="798" x2="2354.7" y2="798" stroke="#008100" stroke-width="1.8"/><line x1="2344.7" y1="788" x2="2344.7" y2="808" stroke="#008100" stroke-width="1.8"/></g>
<path d="M222.5 1287C242.4 1274.7 315.35 1202.8 355.14 1205C394.93 1207.2 447.98 1282.73 487.77 1301.7C527.57 1320.67 580.62 1329.16 620.41 1331.5C660.2 1333.84 713.26 1320.97 753.05 1317.3C792.84 1313.62 845.9 1309.6 885.69 1307C925.48 1304.4 978.53 1304.8 1018.32 1300C1058.12 1295.2 1111.17 1283.91 1150.96 1275C1190.75 1266.09 1243.81 1252.49 1283.6 1240.6C1323.39 1228.7 1376.45 1211.91 1416.24 1195.7C1456.03 1179.49 1509.08 1155.7 1548.88 1132.5C1588.67 1109.3 1641.72 1074.83 1681.51 1041C1721.3 1007.17 1774.36 949.36 1814.15 907C1853.94 864.64 1907 790.1 1946.79 758.6C1986.58 727.1 2039.63 698.08 2079.42 697C2119.22 695.92 2172.27 736.25 2212.06 751.4C2251.85 766.55 2324.8 791.01 2344.7 798" fill="none" stroke="#505050" stroke-width="6.5" stroke-linejoin="round"/>
<g><line x1="211" y1="1275.5" x2="234" y2="1298.5" stroke="#008181" stroke-width="1.8"/><line x1="211" y1="1298.5" x2="234" y2="1275.5" stroke="#008181" stroke-width="1.8"/><line x1="343.6" y1="1193.5" x2="366.6" y2="1216.5" stroke="#008181" stroke-width="1.8"/><line x1="343.6" y1="1216.5" x2="366.6" y2="1193.5" stroke="#008181" stroke-width="1.8"/><line x1="476.3" y1="1290.2" x2="499.3" y2="1313.2" stroke="#008181" stroke-width="1.8"/><line x1="476.3" y1="1313.2" x2="499.3" y2="1290.2" stroke="#008181" stroke-width="1.8"/><line x1="608.9" y1="1320" x2="631.9" y2="1343" stroke="#008181" stroke-width="1.8"/><line x1="608.9" y1="1343" x2="631.9" y2="1320" stroke="#008181" stroke-width="1.8"/><line x1="741.5" y1="1305.8" x2="764.5" y2="1328.8" stroke="#008181" stroke-width="1.8"/><line x1="741.5" y1="1328.8" x2="764.5" y2="1305.8" stroke="#008181" stroke-width="1.8"/><line x1="874.2" y1="1295.5" x2="897.2" y2="1318.5" stroke="#008181" stroke-width="1.8"/><line x1="874.2" y1="1318.5" x2="897.2" y2="1295.5" stroke="#008181" stroke-width="1.8"/><line x1="1006.8" y1="1288.5" x2="1029.8" y2="1311.5" stroke="#008181" stroke-width="1.8"/><line x1="1006.8" y1="1311.5" x2="1029.8" y2="1288.5" stroke="#008181" stroke-width="1.8"/><line x1="1139.5" y1="1263.5" x2="1162.5" y2="1286.5" stroke="#008181" stroke-width="1.8"/><line x1="1139.5" y1="1286.5" x2="1162.5" y2="1263.5" stroke="#008181" stroke-width="1.8"/><line x1="1272.1" y1="1229.1" x2="1295.1" y2="1252.1" stroke="#008181" stroke-width="1.8"/><line x1="1272.1" y1="1252.1" x2="1295.1" y2="1229.1" stroke="#008181" stroke-width="1.8"/><line x1="1404.7" y1="1184.2" x2="1427.7" y2="1207.2" stroke="#008181" stroke-width="1.8"/><line x1="1404.7" y1="1207.2" x2="1427.7" y2="1184.2" stroke="#008181" stroke-width="1.8"/><line x1="1537.4" y1="1121" x2="1560.4" y2="1144" stroke="#008181" stroke-width="1.8"/><line x1="1537.4" y1="1144" x2="1560.4" y2="1121" stroke="#008181" stroke-width="1.8"/><line x1="1670" y1="1029.5" x2="1693" y2="1052.5" stroke="#008181" stroke-width="1.8"/><line x1="1670" y1="1052.5" x2="1693" y2="1029.5" stroke="#008181" stroke-width="1.8"/><line x1="1802.6" y1="895.5" x2="1825.6" y2="918.5" stroke="#008181" stroke-width="1.8"/><line x1="1802.6" y1="918.5" x2="1825.6" y2="895.5" stroke="#008181" stroke-width="1.8"/><line x1="1935.3" y1="747.1" x2="1958.3" y2="770.1" stroke="#008181" stroke-width="1.8"/><line x1="1935.3" y1="770.1" x2="1958.3" y2="747.1" stroke="#008181" stroke-width="1.8"/><line x1="2067.9" y1="685.5" x2="2090.9" y2="708.5" stroke="#008181" stroke-width="1.8"/><line x1="2067.9" y1="708.5" x2="2090.9" y2="685.5" stroke="#008181" stroke-width="1.8"/><line x1="2200.6" y1="739.9" x2="2223.6" y2="762.9" stroke="#008181" stroke-width="1.8"/><line x1="2200.6" y1="762.9" x2="2223.6" y2="739.9" stroke="#008181" stroke-width="1.8"/><line x1="2333.2" y1="786.5" x2="2356.2" y2="809.5" stroke="#008181" stroke-width="1.8"/><line x1="2333.2" y1="809.5" x2="2356.2" y2="786.5" stroke="#008181" stroke-width="1.8"/></g>
<path d="M222.5 1294C242.4 1279.22 315.35 1209.43 355.14 1195.5C394.93 1181.57 447.98 1193.61 487.77 1201.1C527.57 1208.59 580.62 1237.44 620.41 1245.4C660.2 1253.37 713.26 1254.74 753.05 1254.2C792.84 1253.66 845.9 1244.31 885.69 1241.8C925.48 1239.29 978.53 1241.06 1018.32 1237.5C1058.12 1233.94 1111.17 1226.17 1150.96 1218.1C1190.75 1210.03 1243.81 1194.8 1283.6 1183.7C1323.39 1172.6 1376.45 1157.55 1416.24 1144.1C1456.03 1130.64 1509.08 1113.31 1548.88 1094C1588.67 1074.69 1641.72 1043.9 1681.51 1015.4C1721.3 986.9 1774.36 939.57 1814.15 904C1853.94 868.43 1907 809.53 1946.79 778.3C1986.58 747.07 2039.63 705.58 2079.42 695.8C2119.22 686.02 2172.27 698.07 2212.06 713.1C2251.85 728.13 2324.8 783.57 2344.7 796" fill="none" stroke="#FF3E3E" stroke-width="6.5" stroke-linejoin="round"/>
<g><line x1="210.5" y1="1294" x2="234.5" y2="1294" stroke="#0000A5" stroke-width="2"/><line x1="222.5" y1="1282" x2="222.5" y2="1306" stroke="#0000A5" stroke-width="2"/><line x1="211" y1="1282.5" x2="234" y2="1305.5" stroke="#0000A5" stroke-width="2"/><line x1="211" y1="1305.5" x2="234" y2="1282.5" stroke="#0000A5" stroke-width="2"/><line x1="343.1" y1="1195.5" x2="367.1" y2="1195.5" stroke="#0000A5" stroke-width="2"/><line x1="355.1" y1="1183.5" x2="355.1" y2="1207.5" stroke="#0000A5" stroke-width="2"/><line x1="343.6" y1="1184" x2="366.6" y2="1207" stroke="#0000A5" stroke-width="2"/><line x1="343.6" y1="1207" x2="366.6" y2="1184" stroke="#0000A5" stroke-width="2"/><line x1="475.8" y1="1201.1" x2="499.8" y2="1201.1" stroke="#0000A5" stroke-width="2"/><line x1="487.8" y1="1189.1" x2="487.8" y2="1213.1" stroke="#0000A5" stroke-width="2"/><line x1="476.3" y1="1189.6" x2="499.3" y2="1212.6" stroke="#0000A5" stroke-width="2"/><line x1="476.3" y1="1212.6" x2="499.3" y2="1189.6" stroke="#0000A5" stroke-width="2"/><line x1="608.4" y1="1245.4" x2="632.4" y2="1245.4" stroke="#0000A5" stroke-width="2"/><line x1="620.4" y1="1233.4" x2="620.4" y2="1257.4" stroke="#0000A5" stroke-width="2"/><line x1="608.9" y1="1233.9" x2="631.9" y2="1256.9" stroke="#0000A5" stroke-width="2"/><line x1="608.9" y1="1256.9" x2="631.9" y2="1233.9" stroke="#0000A5" stroke-width="2"/><line x1="741" y1="1254.2" x2="765" y2="1254.2" stroke="#0000A5" stroke-width="2"/><line x1="753" y1="1242.2" x2="753" y2="1266.2" stroke="#0000A5" stroke-width="2"/><line x1="741.5" y1="1242.7" x2="764.5" y2="1265.7" stroke="#0000A5" stroke-width="2"/><line x1="741.5" y1="1265.7" x2="764.5" y2="1242.7" stroke="#0000A5" stroke-width="2"/><line x1="873.7" y1="1241.8" x2="897.7" y2="1241.8" stroke="#0000A5" stroke-width="2"/><line x1="885.7" y1="1229.8" x2="885.7" y2="1253.8" stroke="#0000A5" stroke-width="2"/><line x1="874.2" y1="1230.3" x2="897.2" y2="1253.3" stroke="#0000A5" stroke-width="2"/><line x1="874.2" y1="1253.3" x2="897.2" y2="1230.3" stroke="#0000A5" stroke-width="2"/><line x1="1006.3" y1="1237.5" x2="1030.3" y2="1237.5" stroke="#0000A5" stroke-width="2"/><line x1="1018.3" y1="1225.5" x2="1018.3" y2="1249.5" stroke="#0000A5" stroke-width="2"/><line x1="1006.8" y1="1226" x2="1029.8" y2="1249" stroke="#0000A5" stroke-width="2"/><line x1="1006.8" y1="1249" x2="1029.8" y2="1226" stroke="#0000A5" stroke-width="2"/><line x1="1139" y1="1218.1" x2="1163" y2="1218.1" stroke="#0000A5" stroke-width="2"/><line x1="1151" y1="1206.1" x2="1151" y2="1230.1" stroke="#0000A5" stroke-width="2"/><line x1="1139.5" y1="1206.6" x2="1162.5" y2="1229.6" stroke="#0000A5" stroke-width="2"/><line x1="1139.5" y1="1229.6" x2="1162.5" y2="1206.6" stroke="#0000A5" stroke-width="2"/><line x1="1271.6" y1="1183.7" x2="1295.6" y2="1183.7" stroke="#0000A5" stroke-width="2"/><line x1="1283.6" y1="1171.7" x2="1283.6" y2="1195.7" stroke="#0000A5" stroke-width="2"/><line x1="1272.1" y1="1172.2" x2="1295.1" y2="1195.2" stroke="#0000A5" stroke-width="2"/><line x1="1272.1" y1="1195.2" x2="1295.1" y2="1172.2" stroke="#0000A5" stroke-width="2"/><line x1="1404.2" y1="1144.1" x2="1428.2" y2="1144.1" stroke="#0000A5" stroke-width="2"/><line x1="1416.2" y1="1132.1" x2="1416.2" y2="1156.1" stroke="#0000A5" stroke-width="2"/><line x1="1404.7" y1="1132.6" x2="1427.7" y2="1155.6" stroke="#0000A5" stroke-width="2"/><line x1="1404.7" y1="1155.6" x2="1427.7" y2="1132.6" stroke="#0000A5" stroke-width="2"/><line x1="1536.9" y1="1094" x2="1560.9" y2="1094" stroke="#0000A5" stroke-width="2"/><line x1="1548.9" y1="1082" x2="1548.9" y2="1106" stroke="#0000A5" stroke-width="2"/><line x1="1537.4" y1="1082.5" x2="1560.4" y2="1105.5" stroke="#0000A5" stroke-width="2"/><line x1="1537.4" y1="1105.5" x2="1560.4" y2="1082.5" stroke="#0000A5" stroke-width="2"/><line x1="1669.5" y1="1015.4" x2="1693.5" y2="1015.4" stroke="#0000A5" stroke-width="2"/><line x1="1681.5" y1="1003.4" x2="1681.5" y2="1027.4" stroke="#0000A5" stroke-width="2"/><line x1="1670" y1="1003.9" x2="1693" y2="1026.9" stroke="#0000A5" stroke-width="2"/><line x1="1670" y1="1026.9" x2="1693" y2="1003.9" stroke="#0000A5" stroke-width="2"/><line x1="1802.1" y1="904" x2="1826.1" y2="904" stroke="#0000A5" stroke-width="2"/><line x1="1814.1" y1="892" x2="1814.1" y2="916" stroke="#0000A5" stroke-width="2"/><line x1="1802.6" y1="892.5" x2="1825.6" y2="915.5" stroke="#0000A5" stroke-width="2"/><line x1="1802.6" y1="915.5" x2="1825.6" y2="892.5" stroke="#0000A5" stroke-width="2"/><line x1="1934.8" y1="778.3" x2="1958.8" y2="778.3" stroke="#0000A5" stroke-width="2"/><line x1="1946.8" y1="766.3" x2="1946.8" y2="790.3" stroke="#0000A5" stroke-width="2"/><line x1="1935.3" y1="766.8" x2="1958.3" y2="789.8" stroke="#0000A5" stroke-width="2"/><line x1="1935.3" y1="789.8" x2="1958.3" y2="766.8" stroke="#0000A5" stroke-width="2"/><line x1="2067.4" y1="695.8" x2="2091.4" y2="695.8" stroke="#0000A5" stroke-width="2"/><line x1="2079.4" y1="683.8" x2="2079.4" y2="707.8" stroke="#0000A5" stroke-width="2"/><line x1="2067.9" y1="684.3" x2="2090.9" y2="707.3" stroke="#0000A5" stroke-width="2"/><line x1="2067.9" y1="707.3" x2="2090.9" y2="684.3" stroke="#0000A5" stroke-width="2"/><line x1="2200.1" y1="713.1" x2="2224.1" y2="713.1" stroke="#0000A5" stroke-width="2"/><line x1="2212.1" y1="701.1" x2="2212.1" y2="725.1" stroke="#0000A5" stroke-width="2"/><line x1="2200.6" y1="701.6" x2="2223.6" y2="724.6" stroke="#0000A5" stroke-width="2"/><line x1="2200.6" y1="724.6" x2="2223.6" y2="701.6" stroke="#0000A5" stroke-width="2"/><line x1="2332.7" y1="796" x2="2356.7" y2="796" stroke="#0000A5" stroke-width="2"/><line x1="2344.7" y1="784" x2="2344.7" y2="808" stroke="#0000A5" stroke-width="2"/><line x1="2333.2" y1="784.5" x2="2356.2" y2="807.5" stroke="#0000A5" stroke-width="2"/><line x1="2333.2" y1="807.5" x2="2356.2" y2="784.5" stroke="#0000A5" stroke-width="2"/></g>
<path d="M222.5 1266C242.4 1235.85 315.35 1087.34 355.14 1065C394.93 1042.66 447.98 1102.68 487.77 1117.1C527.57 1131.51 580.62 1153.3 620.41 1161.1C660.2 1168.9 713.26 1166.85 753.05 1169.1C792.84 1171.35 845.9 1174.79 885.69 1176.1C925.48 1177.4 978.53 1179.15 1018.32 1177.8C1058.12 1176.45 1111.17 1172.9 1150.96 1167.1C1190.75 1161.29 1243.81 1147.98 1283.6 1139.1C1323.39 1130.22 1376.45 1117.89 1416.24 1107.9C1456.03 1097.91 1509.08 1085.99 1548.88 1072.5C1588.67 1059.01 1641.72 1039.29 1681.51 1018C1721.3 996.72 1774.36 958.08 1814.15 930.6C1853.94 903.12 1907 858.95 1946.79 834.8C1986.58 810.65 2039.63 784.03 2079.42 769.6C2119.22 755.17 2172.27 737.34 2212.06 738.6C2251.85 739.86 2324.8 772.09 2344.7 778" fill="none" stroke="#0070E3" stroke-width="6.5" stroke-linejoin="round"/>
<g><line x1="212" y1="1266" x2="233" y2="1266" stroke="#FF8100" stroke-width="1.8"/><line x1="344.6" y1="1065" x2="365.6" y2="1065" stroke="#FF8100" stroke-width="1.8"/><line x1="477.3" y1="1117.1" x2="498.3" y2="1117.1" stroke="#FF8100" stroke-width="1.8"/><line x1="609.9" y1="1161.1" x2="630.9" y2="1161.1" stroke="#FF8100" stroke-width="1.8"/><line x1="742.5" y1="1169.1" x2="763.5" y2="1169.1" stroke="#FF8100" stroke-width="1.8"/><line x1="875.2" y1="1176.1" x2="896.2" y2="1176.1" stroke="#FF8100" stroke-width="1.8"/><line x1="1007.8" y1="1177.8" x2="1028.8" y2="1177.8" stroke="#FF8100" stroke-width="1.8"/><line x1="1140.5" y1="1167.1" x2="1161.5" y2="1167.1" stroke="#FF8100" stroke-width="1.8"/><line x1="1273.1" y1="1139.1" x2="1294.1" y2="1139.1" stroke="#FF8100" stroke-width="1.8"/><line x1="1405.7" y1="1107.9" x2="1426.7" y2="1107.9" stroke="#FF8100" stroke-width="1.8"/><line x1="1538.4" y1="1072.5" x2="1559.4" y2="1072.5" stroke="#FF8100" stroke-width="1.8"/><line x1="1671" y1="1018" x2="1692" y2="1018" stroke="#FF8100" stroke-width="1.8"/><line x1="1803.6" y1="930.6" x2="1824.6" y2="930.6" stroke="#FF8100" stroke-width="1.8"/><line x1="1936.3" y1="834.8" x2="1957.3" y2="834.8" stroke="#FF8100" stroke-width="1.8"/><line x1="2068.9" y1="769.6" x2="2089.9" y2="769.6" stroke="#FF8100" stroke-width="1.8"/><line x1="2201.6" y1="738.6" x2="2222.6" y2="738.6" stroke="#FF8100" stroke-width="1.8"/><line x1="2334.2" y1="778" x2="2355.2" y2="778" stroke="#FF8100" stroke-width="1.8"/></g>
<path d="M222.5 1213C242.4 1178.95 315.35 1029.38 355.14 986C394.93 942.62 447.98 911.95 487.77 923.8C527.57 935.65 580.62 1039.65 620.41 1065C660.2 1090.35 713.26 1088.25 753.05 1092.8C792.84 1097.35 845.9 1092.15 885.69 1095.3C925.48 1098.45 978.53 1110.5 1018.32 1113.8C1058.12 1117.1 1111.17 1118.86 1150.96 1117.3C1190.75 1115.74 1243.81 1107.5 1283.6 1103.4C1323.39 1099.31 1376.45 1094.47 1416.24 1090C1456.03 1085.53 1509.08 1081.92 1548.88 1073.6C1588.67 1065.27 1641.72 1051.24 1681.51 1034.5C1721.3 1017.76 1774.36 985.02 1814.15 962C1853.94 938.98 1907 899.64 1946.79 881C1986.58 862.36 2039.63 847.33 2079.42 837.7C2119.22 828.07 2172.27 822.75 2212.06 816.8C2251.85 810.84 2324.8 800.82 2344.7 798" fill="none" stroke="#00AF67" stroke-width="6.5" stroke-linejoin="round"/>
<g><line x1="222.5" y1="1202.5" x2="222.5" y2="1223.5" stroke="#9600FF" stroke-width="1.8"/><line x1="355.1" y1="975.5" x2="355.1" y2="996.5" stroke="#9600FF" stroke-width="1.8"/><line x1="487.8" y1="913.3" x2="487.8" y2="934.3" stroke="#9600FF" stroke-width="1.8"/><line x1="620.4" y1="1054.5" x2="620.4" y2="1075.5" stroke="#9600FF" stroke-width="1.8"/><line x1="753" y1="1082.3" x2="753" y2="1103.3" stroke="#9600FF" stroke-width="1.8"/><line x1="885.7" y1="1084.8" x2="885.7" y2="1105.8" stroke="#9600FF" stroke-width="1.8"/><line x1="1018.3" y1="1103.3" x2="1018.3" y2="1124.3" stroke="#9600FF" stroke-width="1.8"/><line x1="1151" y1="1106.8" x2="1151" y2="1127.8" stroke="#9600FF" stroke-width="1.8"/><line x1="1283.6" y1="1092.9" x2="1283.6" y2="1113.9" stroke="#9600FF" stroke-width="1.8"/><line x1="1416.2" y1="1079.5" x2="1416.2" y2="1100.5" stroke="#9600FF" stroke-width="1.8"/><line x1="1548.9" y1="1063.1" x2="1548.9" y2="1084.1" stroke="#9600FF" stroke-width="1.8"/><line x1="1681.5" y1="1024" x2="1681.5" y2="1045" stroke="#9600FF" stroke-width="1.8"/><line x1="1814.1" y1="951.5" x2="1814.1" y2="972.5" stroke="#9600FF" stroke-width="1.8"/><line x1="1946.8" y1="870.5" x2="1946.8" y2="891.5" stroke="#9600FF" stroke-width="1.8"/><line x1="2079.4" y1="827.2" x2="2079.4" y2="848.2" stroke="#9600FF" stroke-width="1.8"/><line x1="2212.1" y1="806.3" x2="2212.1" y2="827.3" stroke="#9600FF" stroke-width="1.8"/><line x1="2344.7" y1="787.5" x2="2344.7" y2="808.5" stroke="#9600FF" stroke-width="1.8"/></g>
<path d="M222.5 1176.5C242.4 1150.92 315.35 1065.12 355.14 1006C394.93 946.88 447.98 797.58 487.77 782.4C527.57 767.22 580.62 871.33 620.41 904.8C660.2 938.26 713.26 988.05 753.05 1005.5C792.84 1022.95 845.9 1014.94 885.69 1021.1C925.48 1027.27 978.53 1039.82 1018.32 1046.6C1058.12 1053.38 1111.17 1062.64 1150.96 1066.3C1190.75 1069.96 1243.81 1068.54 1283.6 1071C1323.39 1073.46 1376.45 1081.2 1416.24 1082.7C1456.03 1084.2 1509.08 1084.45 1548.88 1081C1588.67 1077.55 1641.72 1071.85 1681.51 1059.7C1721.3 1047.55 1774.36 1021.13 1814.15 1000C1853.94 978.87 1907 939.75 1946.79 918.8C1986.58 897.84 2039.63 869.42 2079.42 860.3C2119.22 851.18 2172.27 856.85 2212.06 858C2251.85 859.15 2324.8 866.5 2344.7 868" fill="none" stroke="#C478E2" stroke-width="6.5" stroke-linejoin="round"/>
<g><rect x="212.5" y="1166.5" width="20" height="20" fill="#FF0084"/><rect x="345.1" y="996" width="20" height="20" fill="#FF0084"/><rect x="477.8" y="772.4" width="20" height="20" fill="#FF0084"/><rect x="610.4" y="894.8" width="20" height="20" fill="#FF0084"/><rect x="743" y="995.5" width="20" height="20" fill="#FF0084"/><rect x="875.7" y="1011.1" width="20" height="20" fill="#FF0084"/><rect x="1008.3" y="1036.6" width="20" height="20" fill="#FF0084"/><rect x="1141" y="1056.3" width="20" height="20" fill="#FF0084"/><rect x="1273.6" y="1061" width="20" height="20" fill="#FF0084"/><rect x="1406.2" y="1072.7" width="20" height="20" fill="#FF0084"/><rect x="1538.9" y="1071" width="20" height="20" fill="#FF0084"/><rect x="1671.5" y="1049.7" width="20" height="20" fill="#FF0084"/><rect x="1804.1" y="990" width="20" height="20" fill="#FF0084"/><rect x="1936.8" y="908.8" width="20" height="20" fill="#FF0084"/><rect x="2069.4" y="850.3" width="20" height="20" fill="#FF0084"/><rect x="2202.1" y="848" width="20" height="20" fill="#FF0084"/><rect x="2334.7" y="858" width="20" height="20" fill="#FF0084"/></g>
<path d="M222.5 1182.4C242.4 1155.41 315.35 1065.89 355.14 1002.5C394.93 939.11 447.98 796.38 487.77 759.8C527.57 723.21 580.62 738.07 620.41 758.6C660.2 779.13 713.26 868.74 753.05 896.7C792.84 924.66 845.9 931.89 885.69 945C925.48 958.11 978.53 973.12 1018.32 984.1C1058.12 995.08 1111.17 1009.52 1150.96 1018.2C1190.75 1026.88 1243.81 1033.18 1283.6 1042C1323.39 1050.82 1376.45 1069.2 1416.24 1077C1456.03 1084.8 1509.08 1092.55 1548.88 1094C1588.67 1095.45 1641.72 1094.88 1681.51 1086.7C1721.3 1078.53 1774.36 1056.93 1814.15 1039.5C1853.94 1022.07 1907 989.73 1946.79 970.5C1986.58 951.27 2039.63 927.12 2079.42 911.3C2119.22 895.47 2172.27 868.5 2212.06 865C2251.85 861.5 2324.8 884.55 2344.7 888" fill="none" stroke="#DD9A00" stroke-width="6.5" stroke-linejoin="round"/>
<g><circle cx="222.5" cy="1182.4" r="11.2" fill="#FFFFFF"/><circle cx="355.1" cy="1002.5" r="11.2" fill="#FFFFFF"/><circle cx="487.8" cy="759.8" r="11.2" fill="#FFFFFF"/><circle cx="620.4" cy="758.6" r="11.2" fill="#FFFFFF"/><circle cx="753" cy="896.7" r="11.2" fill="#FFFFFF"/><circle cx="885.7" cy="945" r="11.2" fill="#FFFFFF"/><circle cx="1018.3" cy="984.1" r="11.2" fill="#FFFFFF"/><circle cx="1151" cy="1018.2" r="11.2" fill="#FFFFFF"/><circle cx="1283.6" cy="1042" r="11.2" fill="#FFFFFF"/><circle cx="1416.2" cy="1077" r="11.2" fill="#FFFFFF"/><circle cx="1548.9" cy="1094" r="11.2" fill="#FFFFFF"/><circle cx="1681.5" cy="1086.7" r="11.2" fill="#FFFFFF"/><circle cx="1814.1" cy="1039.5" r="11.2" fill="#FFFFFF"/><circle cx="1946.8" cy="970.5" r="11.2" fill="#FFFFFF"/><circle cx="2079.4" cy="911.3" r="11.2" fill="#FFFFFF"/><circle cx="2212.1" cy="865" r="11.2" fill="#FFFFFF"/><circle cx="2344.7" cy="888" r="11.2" fill="#FFFFFF"/></g>
<path d="M222.5 1157C242.4 1127.75 315.35 1015.13 355.14 962C394.93 908.87 447.98 846.45 487.77 802.8C527.57 759.15 580.62 672.51 620.41 671C660.2 669.49 713.26 763.42 753.05 792.7C792.84 821.98 845.9 846.36 885.69 866.2C925.48 886.05 978.53 908.25 1018.32 925C1058.12 941.75 1111.17 963.57 1150.96 977.9C1190.75 992.23 1243.81 1007.43 1283.6 1020.5C1323.39 1033.57 1376.45 1052.58 1416.24 1065C1456.03 1077.42 1509.08 1096.65 1548.88 1103.3C1588.67 1109.94 1641.72 1114.26 1681.51 1109.3C1721.3 1104.34 1774.36 1085.95 1814.15 1070.2C1853.94 1054.45 1907 1022.03 1946.79 1004.3C1986.58 986.57 2039.63 963.07 2079.42 952C2119.22 940.93 2172.27 936.2 2212.06 930.5C2251.85 924.8 2324.8 916.48 2344.7 914" fill="none" stroke="#00CCCD" stroke-width="6.5" stroke-linejoin="round"/>
<g><polygon points="222.5,1140.2 236.7,1165 208.3,1165" fill="#C1C1C1"/><polygon points="355.1,945.2 369.3,970 340.9,970" fill="#C1C1C1"/><polygon points="487.8,786 502,810.8 473.6,810.8" fill="#C1C1C1"/><polygon points="620.4,654.2 634.6,679 606.2,679" fill="#C1C1C1"/><polygon points="753,775.9 767.2,800.7 738.8,800.7" fill="#C1C1C1"/><polygon points="885.7,849.4 899.9,874.2 871.5,874.2" fill="#C1C1C1"/><polygon points="1018.3,908.2 1032.5,933 1004.1,933" fill="#C1C1C1"/><polygon points="1151,961.1 1165.2,985.9 1136.8,985.9" fill="#C1C1C1"/><polygon points="1283.6,1003.7 1297.8,1028.5 1269.4,1028.5" fill="#C1C1C1"/><polygon points="1416.2,1048.2 1430.4,1073 1402,1073" fill="#C1C1C1"/><polygon points="1548.9,1086.5 1563.1,1111.3 1534.7,1111.3" fill="#C1C1C1"/><polygon points="1681.5,1092.5 1695.7,1117.3 1667.3,1117.3" fill="#C1C1C1"/><polygon points="1814.1,1053.4 1828.3,1078.2 1799.9,1078.2" fill="#C1C1C1"/><polygon points="1946.8,987.5 1961,1012.3 1932.6,1012.3" fill="#C1C1C1"/><polygon points="2079.4,935.2 2093.6,960 2065.2,960" fill="#C1C1C1"/><polygon points="2212.1,913.7 2226.3,938.5 2197.9,938.5" fill="#C1C1C1"/><polygon points="2344.7,897.2 2358.9,922 2330.5,922" fill="#C1C1C1"/></g>
<path d="M222.5 1157C242.4 1129.55 315.35 1026.28 355.14 974C394.93 921.73 447.98 861.66 487.77 808.5C527.57 755.34 580.62 636.75 620.41 619.6C660.2 602.46 713.26 668.38 753.05 694.2C792.84 720.02 845.9 766.08 885.69 791.7C925.48 817.32 978.53 843.14 1018.32 865C1058.12 886.86 1111.17 916.92 1150.96 937.4C1190.75 957.88 1243.81 982.81 1283.6 1001.5C1323.39 1020.19 1376.45 1045.18 1416.24 1062C1456.03 1078.82 1509.08 1103.55 1548.88 1113.6C1588.67 1123.65 1641.72 1130.92 1681.51 1129C1721.3 1127.08 1774.36 1113.85 1814.15 1100.8C1853.94 1087.75 1907 1059.37 1946.79 1042C1986.58 1024.63 2039.63 1000.3 2079.42 985C2119.22 969.7 2172.27 941.95 2212.06 940C2251.85 938.05 2324.8 967.2 2344.7 972" fill="none" stroke="#8C4D4D" stroke-width="6.5" stroke-linejoin="round"/>
<g><polygon points="222.5,1173.8 236.7,1149 208.3,1149" fill="#818181"/><polygon points="355.1,990.8 369.3,966 340.9,966" fill="#818181"/><polygon points="487.8,825.3 502,800.5 473.6,800.5" fill="#818181"/><polygon points="620.4,636.4 634.6,611.6 606.2,611.6" fill="#818181"/><polygon points="753,711 767.2,686.2 738.8,686.2" fill="#818181"/><polygon points="885.7,808.5 899.9,783.7 871.5,783.7" fill="#818181"/><polygon points="1018.3,881.8 1032.5,857 1004.1,857" fill="#818181"/><polygon points="1151,954.2 1165.2,929.4 1136.8,929.4" fill="#818181"/><polygon points="1283.6,1018.3 1297.8,993.5 1269.4,993.5" fill="#818181"/><polygon points="1416.2,1078.8 1430.4,1054 1402,1054" fill="#818181"/><polygon points="1548.9,1130.4 1563.1,1105.6 1534.7,1105.6" fill="#818181"/><polygon points="1681.5,1145.8 1695.7,1121 1667.3,1121" fill="#818181"/><polygon points="1814.1,1117.6 1828.3,1092.8 1799.9,1092.8" fill="#818181"/><polygon points="1946.8,1058.8 1961,1034 1932.6,1034" fill="#818181"/><polygon points="2079.4,1001.8 2093.6,977 2065.2,977" fill="#818181"/><polygon points="2212.1,956.8 2226.3,932 2197.9,932" fill="#818181"/><polygon points="2344.7,988.8 2358.9,964 2330.5,964" fill="#818181"/></g>
<path d="M222.5 1118C242.4 1089.2 315.35 984.82 355.14 926C394.93 867.18 447.98 766.91 487.77 725.9C527.57 684.89 580.62 669.99 620.41 652.6C660.2 635.22 713.26 598.83 753.05 610C792.84 621.17 845.9 696.5 885.69 727.1C925.48 757.7 978.53 787.09 1018.32 814C1058.12 840.91 1111.17 879.95 1150.96 906.5C1190.75 933.05 1243.81 967.62 1283.6 991C1323.39 1014.38 1376.45 1042.53 1416.24 1062.4C1456.03 1082.28 1509.08 1110.66 1548.88 1123.5C1588.67 1136.34 1641.72 1147.62 1681.51 1148C1721.3 1148.38 1774.36 1137.65 1814.15 1126C1853.94 1114.35 1907 1086.95 1946.79 1070.3C1986.58 1053.65 2039.63 1025.55 2079.42 1015C2119.22 1004.46 2172.27 1000.3 2212.06 1000C2251.85 999.7 2324.8 1011.05 2344.7 1013" fill="none" stroke="#8F8F00" stroke-width="6.5" stroke-linejoin="round"/>
<g><polygon points="222.5,1103.3 237.2,1118 222.5,1132.7 207.8,1118" fill="#FFFF77"/><polygon points="355.1,911.3 369.8,926 355.1,940.7 340.4,926" fill="#FFFF77"/><polygon points="487.8,711.2 502.5,725.9 487.8,740.6 473.1,725.9" fill="#FFFF77"/><polygon points="620.4,637.9 635.1,652.6 620.4,667.3 605.7,652.6" fill="#FFFF77"/><polygon points="753,595.3 767.8,610 753,624.7 738.3,610" fill="#FFFF77"/><polygon points="885.7,712.4 900.4,727.1 885.7,741.8 871,727.1" fill="#FFFF77"/><polygon points="1018.3,799.3 1033,814 1018.3,828.7 1003.6,814" fill="#FFFF77"/><polygon points="1151,891.8 1165.7,906.5 1151,921.2 1136.3,906.5" fill="#FFFF77"/><polygon points="1283.6,976.3 1298.3,991 1283.6,1005.7 1268.9,991" fill="#FFFF77"/><polygon points="1416.2,1047.7 1430.9,1062.4 1416.2,1077.1 1401.5,1062.4" fill="#FFFF77"/><polygon points="1548.9,1108.8 1563.6,1123.5 1548.9,1138.2 1534.2,1123.5" fill="#FFFF77"/><polygon points="1681.5,1133.3 1696.2,1148 1681.5,1162.7 1666.8,1148" fill="#FFFF77"/><polygon points="1814.1,1111.3 1828.8,1126 1814.1,1140.7 1799.4,1126" fill="#FFFF77"/><polygon points="1946.8,1055.6 1961.5,1070.3 1946.8,1085 1932.1,1070.3" fill="#FFFF77"/><polygon points="2079.4,1000.3 2094.1,1015 2079.4,1029.7 2064.7,1015" fill="#FFFF77"/><polygon points="2212.1,985.3 2226.8,1000 2212.1,1014.7 2197.4,1000" fill="#FFFF77"/><polygon points="2344.7,998.3 2359.4,1013 2344.7,1027.7 2330,1013" fill="#FFFF77"/></g>
<path d="M222.5 1131C242.4 1101.22 315.35 990.44 355.14 932.5C394.93 874.56 447.98 798.72 487.77 744.7C527.57 690.69 580.62 598.89 620.41 572.4C660.2 545.91 713.26 553.67 753.05 568.1C792.84 582.53 845.9 638.32 885.69 668.6C925.48 698.88 978.53 738.44 1018.32 770C1058.12 801.56 1111.17 847.8 1150.96 879C1190.75 910.2 1243.81 950.26 1283.6 978C1323.39 1005.74 1376.45 1040.37 1416.24 1063.9C1456.03 1087.44 1509.08 1119.29 1548.88 1134.9C1588.67 1150.52 1641.72 1165.64 1681.51 1168C1721.3 1170.36 1774.36 1160.61 1814.15 1150.6C1853.94 1140.59 1907 1115.43 1946.79 1101.3C1986.58 1087.17 2039.63 1065.66 2079.42 1056.4C2119.22 1047.14 2172.27 1037.86 2212.06 1039.6C2251.85 1041.34 2324.8 1063.74 2344.7 1068" fill="none" stroke="#FF6500" stroke-width="6.5" stroke-linejoin="round"/>
<g><polygon points="205.7,1131 230.5,1116.8 230.5,1145.2" fill="#00FFFF"/><polygon points="338.3,932.5 363.1,918.3 363.1,946.7" fill="#00FFFF"/><polygon points="471,744.7 495.8,730.5 495.8,758.9" fill="#00FFFF"/><polygon points="603.6,572.4 628.4,558.2 628.4,586.6" fill="#00FFFF"/><polygon points="736.2,568.1 761,553.9 761,582.3" fill="#00FFFF"/><polygon points="868.9,668.6 893.7,654.4 893.7,682.8" fill="#00FFFF"/><polygon points="1001.5,770 1026.3,755.8 1026.3,784.2" fill="#00FFFF"/><polygon points="1134.2,879 1159,864.8 1159,893.2" fill="#00FFFF"/><polygon points="1266.8,978 1291.6,963.8 1291.6,992.2" fill="#00FFFF"/><polygon points="1399.4,1063.9 1424.2,1049.7 1424.2,1078.1" fill="#00FFFF"/><polygon points="1532.1,1134.9 1556.9,1120.7 1556.9,1149.1" fill="#00FFFF"/><polygon points="1664.7,1168 1689.5,1153.8 1689.5,1182.2" fill="#00FFFF"/><polygon points="1797.3,1150.6 1822.1,1136.4 1822.1,1164.8" fill="#00FFFF"/><polygon points="1930,1101.3 1954.8,1087.1 1954.8,1115.5" fill="#00FFFF"/><polygon points="2062.6,1056.4 2087.4,1042.2 2087.4,1070.6" fill="#00FFFF"/><polygon points="2195.3,1039.6 2220.1,1025.4 2220.1,1053.8" fill="#00FFFF"/><polygon points="2327.9,1068 2352.7,1053.8 2352.7,1082.2" fill="#00FFFF"/></g>
</g>
<rect x="1050.2" y="72.5" width="300.3" height="511" fill="#fff" stroke="#000" stroke-width="2.9"/>
<path d="M1061.4 129.3H1136M1163.6 129.3H1239.7" stroke="#505050" stroke-width="7" stroke-linecap="round" fill="none"/>
<rect x="1140.3" y="119" width="20" height="20" fill="#000000"/>
<text x="1259" y="154.9" font-size="81">43</text>
<path d="M1061.4 229.3H1136M1163.6 229.3H1239.7" stroke="#FF3E3E" stroke-width="7" stroke-linecap="round" fill="none"/>
<circle cx="1150.3" cy="229" r="11.2" fill="#FF0000"/>
<text x="1259" y="254.9" font-size="81">50</text>
<path d="M1061.4 329.3H1136M1163.6 329.3H1239.7" stroke="#0070E3" stroke-width="7" stroke-linecap="round" fill="none"/>
<polygon points="1150.3,312.2 1164.5,337 1136.1,337" fill="#00FF00"/>
<text x="1259" y="354.9" font-size="81">58</text>
<path d="M1061.4 429.3H1136M1163.6 429.3H1239.7" stroke="#00AF67" stroke-width="7" stroke-linecap="round" fill="none"/>
<polygon points="1150.3,445.8 1164.5,421 1136.1,421" fill="#0000FF"/>
<text x="1259" y="454.9" font-size="81">68</text>
<path d="M1061.4 529H1136M1163.6 529H1239.7" stroke="#C478E2" stroke-width="7" stroke-linecap="round" fill="none"/>
<polygon points="1150.3,514 1165,528.7 1150.3,543.4 1135.6,528.7" fill="#00FFFF"/>
<text x="1259" y="554.6" font-size="81">78</text>
<rect x="1383.5" y="69.4" width="343.8" height="809.9" fill="#fff" stroke="#000" stroke-width="2.9"/>
<path d="M1396.2 125.8H1470M1497.6 125.8H1574.5" stroke="#DD9A00" stroke-width="7" stroke-linecap="round" fill="none"/>
<polygon points="1467.5,125.5 1492.3,111.3 1492.3,139.7" fill="#FF00FF"/>
<text x="1594" y="151.4" font-size="81">91</text>
<path d="M1396.2 225.8H1470M1497.6 225.8H1574.5" stroke="#00CCCD" stroke-width="7" stroke-linecap="round" fill="none"/>
<polygon points="1501.1,225.5 1476.3,211.3 1476.3,239.7" fill="#FFFF00"/>
<text x="1594" y="251.4" font-size="81">105</text>
<path d="M1396.2 326H1470M1497.6 326H1574.5" stroke="#8C4D4D" stroke-width="7" stroke-linecap="round" fill="none"/>
<polygon points="1484.3,312.4 1495.8,319.1 1495.8,332.3 1484.3,339 1472.8,332.4 1472.8,319.1" fill="#818100"/>
<text x="1594" y="351.6" font-size="81">122</text>
<path d="M1396.2 425.6H1470M1497.6 425.6H1574.5" stroke="#8F8F00" stroke-width="7" stroke-linecap="round" fill="none"/>
<polygon points="1484.3,411.8 1487.5,420.9 1497.1,421.1 1489.4,427 1492.2,436.2 1484.3,430.7 1476.4,436.2 1479.2,427 1471.5,421.1 1481.1,420.9" fill="#000084"/>
<text x="1594" y="451.2" font-size="81">141</text>
<path d="M1396.2 525.8H1470M1497.6 525.8H1574.5" stroke="#FF6500" stroke-width="7" stroke-linecap="round" fill="none"/>
<polygon points="1484.3,512.2 1496.9,521.4 1492.1,536.3 1476.5,536.3 1471.7,521.4" fill="#960084"/>
<text x="1594" y="551.4" font-size="81">164</text>
<path d="M1396.2 625.4H1470M1497.6 625.4H1574.5" stroke="#439ACF" stroke-width="7" stroke-linecap="round" fill="none"/>
<circle cx="1484.3" cy="625.1" r="11.5" fill="url(#sph)"/>
<text x="1594" y="651" font-size="81">190</text>
<path d="M1396.2 725.8H1470M1497.6 725.8H1574.5" stroke="#31B900" stroke-width="7" stroke-linecap="round" fill="none"/>
<line x1="1474.3" y1="725.5" x2="1494.3" y2="725.5" stroke="#008100" stroke-width="1.8"/><line x1="1484.3" y1="715.5" x2="1484.3" y2="735.5" stroke="#008100" stroke-width="1.8"/>
<text x="1594" y="751.4" font-size="81">220</text>
<path d="M1396.2 825.8H1470M1497.6 825.8H1574.5" stroke="#505050" stroke-width="7" stroke-linecap="round" fill="none"/>
<line x1="1472.8" y1="814" x2="1495.8" y2="837" stroke="#008181" stroke-width="1.8"/><line x1="1472.8" y1="837" x2="1495.8" y2="814" stroke="#008181" stroke-width="1.8"/>
<text x="1594" y="851.4" font-size="81">255</text>
<rect x="1609.1" y="1420.3" width="342.4" height="313.1" fill="#fff" stroke="#000" stroke-width="2.9"/>
<path d="M1622.1 1478.3H1696.2M1723.8 1478.3H1799.5" stroke="#FF3E3E" stroke-width="7" stroke-linecap="round" fill="none"/>
<line x1="1698.5" y1="1478" x2="1722.5" y2="1478" stroke="#0000A5" stroke-width="2"/><line x1="1710.5" y1="1466" x2="1710.5" y2="1490" stroke="#0000A5" stroke-width="2"/><line x1="1699" y1="1466.5" x2="1722" y2="1489.5" stroke="#0000A5" stroke-width="2"/><line x1="1699" y1="1489.5" x2="1722" y2="1466.5" stroke="#0000A5" stroke-width="2"/>
<text x="1819.5" y="1503.9" font-size="81">295</text>
<path d="M1622.1 1578.4H1696.2M1723.8 1578.4H1799.5" stroke="#0070E3" stroke-width="7" stroke-linecap="round" fill="none"/>
<line x1="1700" y1="1578.1" x2="1721" y2="1578.1" stroke="#FF8100" stroke-width="1.8"/>
<text x="1819.5" y="1604" font-size="81">341</text>
<path d="M1622.1 1678.2H1696.2M1723.8 1678.2H1799.5" stroke="#00AF67" stroke-width="7" stroke-linecap="round" fill="none"/>
<line x1="1710.5" y1="1667.4" x2="1710.5" y2="1688.4" stroke="#9600FF" stroke-width="1.8"/>
<text x="1819.5" y="1703.8" font-size="81">396</text>
<rect x="1976.5" y="1119.4" width="343.6" height="612.1" fill="#fff" stroke="#000" stroke-width="2.9"/>
<path d="M1989.5 1175.8H2063.6M2091.2 1175.8H2167.3" stroke="#C478E2" stroke-width="7" stroke-linecap="round" fill="none"/>
<rect x="2067.9" y="1165.5" width="20" height="20" fill="#FF0084"/>
<text x="2186.5" y="1201.4" font-size="81">458</text>
<path d="M1989.5 1276H2063.6M2091.2 1276H2167.3" stroke="#DD9A00" stroke-width="7" stroke-linecap="round" fill="none"/>
<circle cx="2077.9" cy="1275.7" r="11.2" fill="#FFFFFF"/>
<text x="2186.5" y="1301.6" font-size="81">531</text>
<path d="M1989.5 1375.7H2063.6M2091.2 1375.7H2167.3" stroke="#00CCCD" stroke-width="7" stroke-linecap="round" fill="none"/>
<polygon points="2077.9,1358.6 2092.1,1383.4 2063.7,1383.4" fill="#C1C1C1"/>
<text x="2186.5" y="1401.3" font-size="81">615</text>
<path d="M1989.5 1475.9H2063.6M2091.2 1475.9H2167.3" stroke="#8C4D4D" stroke-width="7" stroke-linecap="round" fill="none"/>
<polygon points="2077.9,1492.4 2092.1,1467.6 2063.7,1467.6" fill="#818181"/>
<text x="2186.5" y="1501.5" font-size="81">712</text>
<path d="M1989.5 1575.4H2063.6M2091.2 1575.4H2167.3" stroke="#8F8F00" stroke-width="7" stroke-linecap="round" fill="none"/>
<polygon points="2077.9,1560.4 2092.6,1575.1 2077.9,1589.8 2063.2,1575.1" fill="#FFFF77"/>
<text x="2186.5" y="1601" font-size="81">824</text>
<path d="M1989.5 1675.8H2063.6M2091.2 1675.8H2167.3" stroke="#FF6500" stroke-width="7" stroke-linecap="round" fill="none"/>
<polygon points="2061.1,1675.5 2085.9,1661.3 2085.9,1689.7" fill="#00FFFF"/>
<text x="2186.5" y="1701.4" font-size="81">955</text>
<text class="b" x="146.9" y="70.3" font-size="74" text-anchor="middle">1</text>
<text class="b" x="148" y="1791.5" font-size="74" text-anchor="middle">0</text>
<text class="b" x="222.5" y="1885.3" font-size="74.3" text-anchor="middle">300</text>
<text class="b" x="487.8" y="1885.3" font-size="74.3" text-anchor="middle">400</text>
<text class="b" x="753" y="1885.3" font-size="74.3" text-anchor="middle">500</text>
<text class="b" x="1018.3" y="1885.3" font-size="74.3" text-anchor="middle">600</text>
<text class="b" x="1283.6" y="1885.3" font-size="74.3" text-anchor="middle">700</text>
<text class="b" x="1548.9" y="1885.3" font-size="74.3" text-anchor="middle">800</text>
<text class="b" x="1814.1" y="1885.3" font-size="74.3" text-anchor="middle">900</text>
<text class="b" x="2079.4" y="1885.3" font-size="74.3" text-anchor="middle">1000</text>
<text class="b" x="2344.7" y="1885.3" font-size="74.3" text-anchor="middle">1100</text>
<text class="b" x="1284.3" y="2026" font-size="89" text-anchor="middle">Wavelength (nm)</text>
<text class="b" transform="translate(92.8 908.6) rotate(-90)" font-size="89.5" text-anchor="middle">Absorbance (%)</text>
<text x="305.3" y="194" font-size="89">Crystal size (nm)<tspan x="919.7" y="196.1" font-size="56.8" font-weight="900" font-family="&quot;Liberation Serif&quot;,&quot;Noto Serif CJK SC&quot;,serif">：</tspan></text>
</svg></body></html>
